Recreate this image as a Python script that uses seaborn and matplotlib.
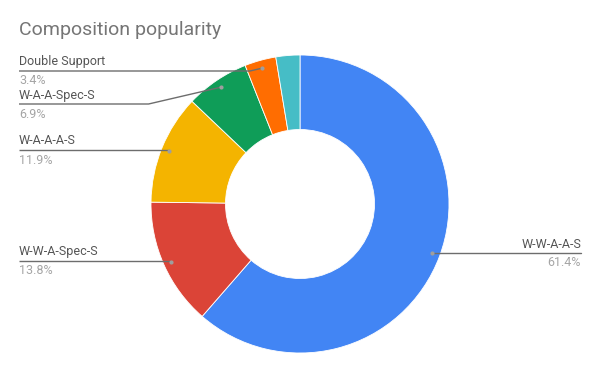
import matplotlib
matplotlib.use("Agg")
import matplotlib.pyplot as plt
import seaborn as sns
import numpy as np

categories = ["W-W-A-A-S", "W-W-A-Spec-S", "W-A-A-A-S", "W-A-A-Spec-S", "Double Support", "Other"]
values = [61.4, 13.8, 11.9, 6.9, 3.4, 2.6]
pct_labels = ["61.4%", "13.8%", "11.9%", "6.9%", "3.4%", ""]
colors = ["#4285F4", "#DB4437", "#F4B400", "#0F9D58", "#FF6D01", "#46BDC6"]

sns.set_theme(style="white")
plt.rcParams['font.family'] = ['Roboto', 'DejaVu Sans']

W, H = 600, 371
fig = plt.figure(figsize=(6, 3.71), dpi=100)
ax = fig.add_axes([0, 0, 1, 1])

cx, cy = 300, H - 204
R = 149
wedges, _ = ax.pie(values, colors=colors, startangle=90, counterclock=False,
                   center=(cx, cy), radius=R,
                   wedgeprops=dict(width=R * 0.5, edgecolor="white", linewidth=0.6))
ax.set_xlim(0, W)
ax.set_ylim(0, H)
ax.set_aspect("equal")
ax.axis("off")

# label layout: (line y in pixel from top, side)
layout = {
    0: (253, "right"),
    1: (261, "left"),
    2: (150, "left"),
    3: (104, "left"),
    4: (71, "left"),
}
line_col = "#6d6d6d"
for i, (ly_px, side) in layout.items():
    w = wedges[i]
    mid = np.deg2rad((w.theta1 + w.theta2) / 2)
    dx = cx + 141 * np.cos(mid)
    dy = cy + 141 * np.sin(mid)
    ly = H - ly_px
    if side == "left":
        x0 = 19
        bend = dx - abs(dy - ly) * 4.3 if abs(dy - ly) > 2 else dx
        ax.plot([x0, bend, dx], [ly, ly, dy], color=line_col, lw=1, solid_capstyle="butt", zorder=3)
        ax.text(x0, ly + 9, categories[i], ha="left", va="center", fontsize=9, color="#555555")
        ax.text(x0, ly - 10, pct_labels[i], ha="left", va="center", fontsize=9, color="#a5a5a5")
    else:
        x1 = 581
        ax.plot([dx, x1], [ly, ly], color=line_col, lw=1, zorder=3)
        ax.text(x1, ly + 9, categories[i], ha="right", va="center", fontsize=9, color="#555555")
        ax.text(x1, ly - 10, pct_labels[i], ha="right", va="center", fontsize=9, color="#a5a5a5")
    ax.scatter([dx], [dy], s=9, color="#9e9e9e", zorder=4, linewidths=0)

ax.text(19, H - 30, "Composition popularity", ha="left", va="center", fontsize=14, color="#757575")

fig.savefig("out.png", dpi=100)
